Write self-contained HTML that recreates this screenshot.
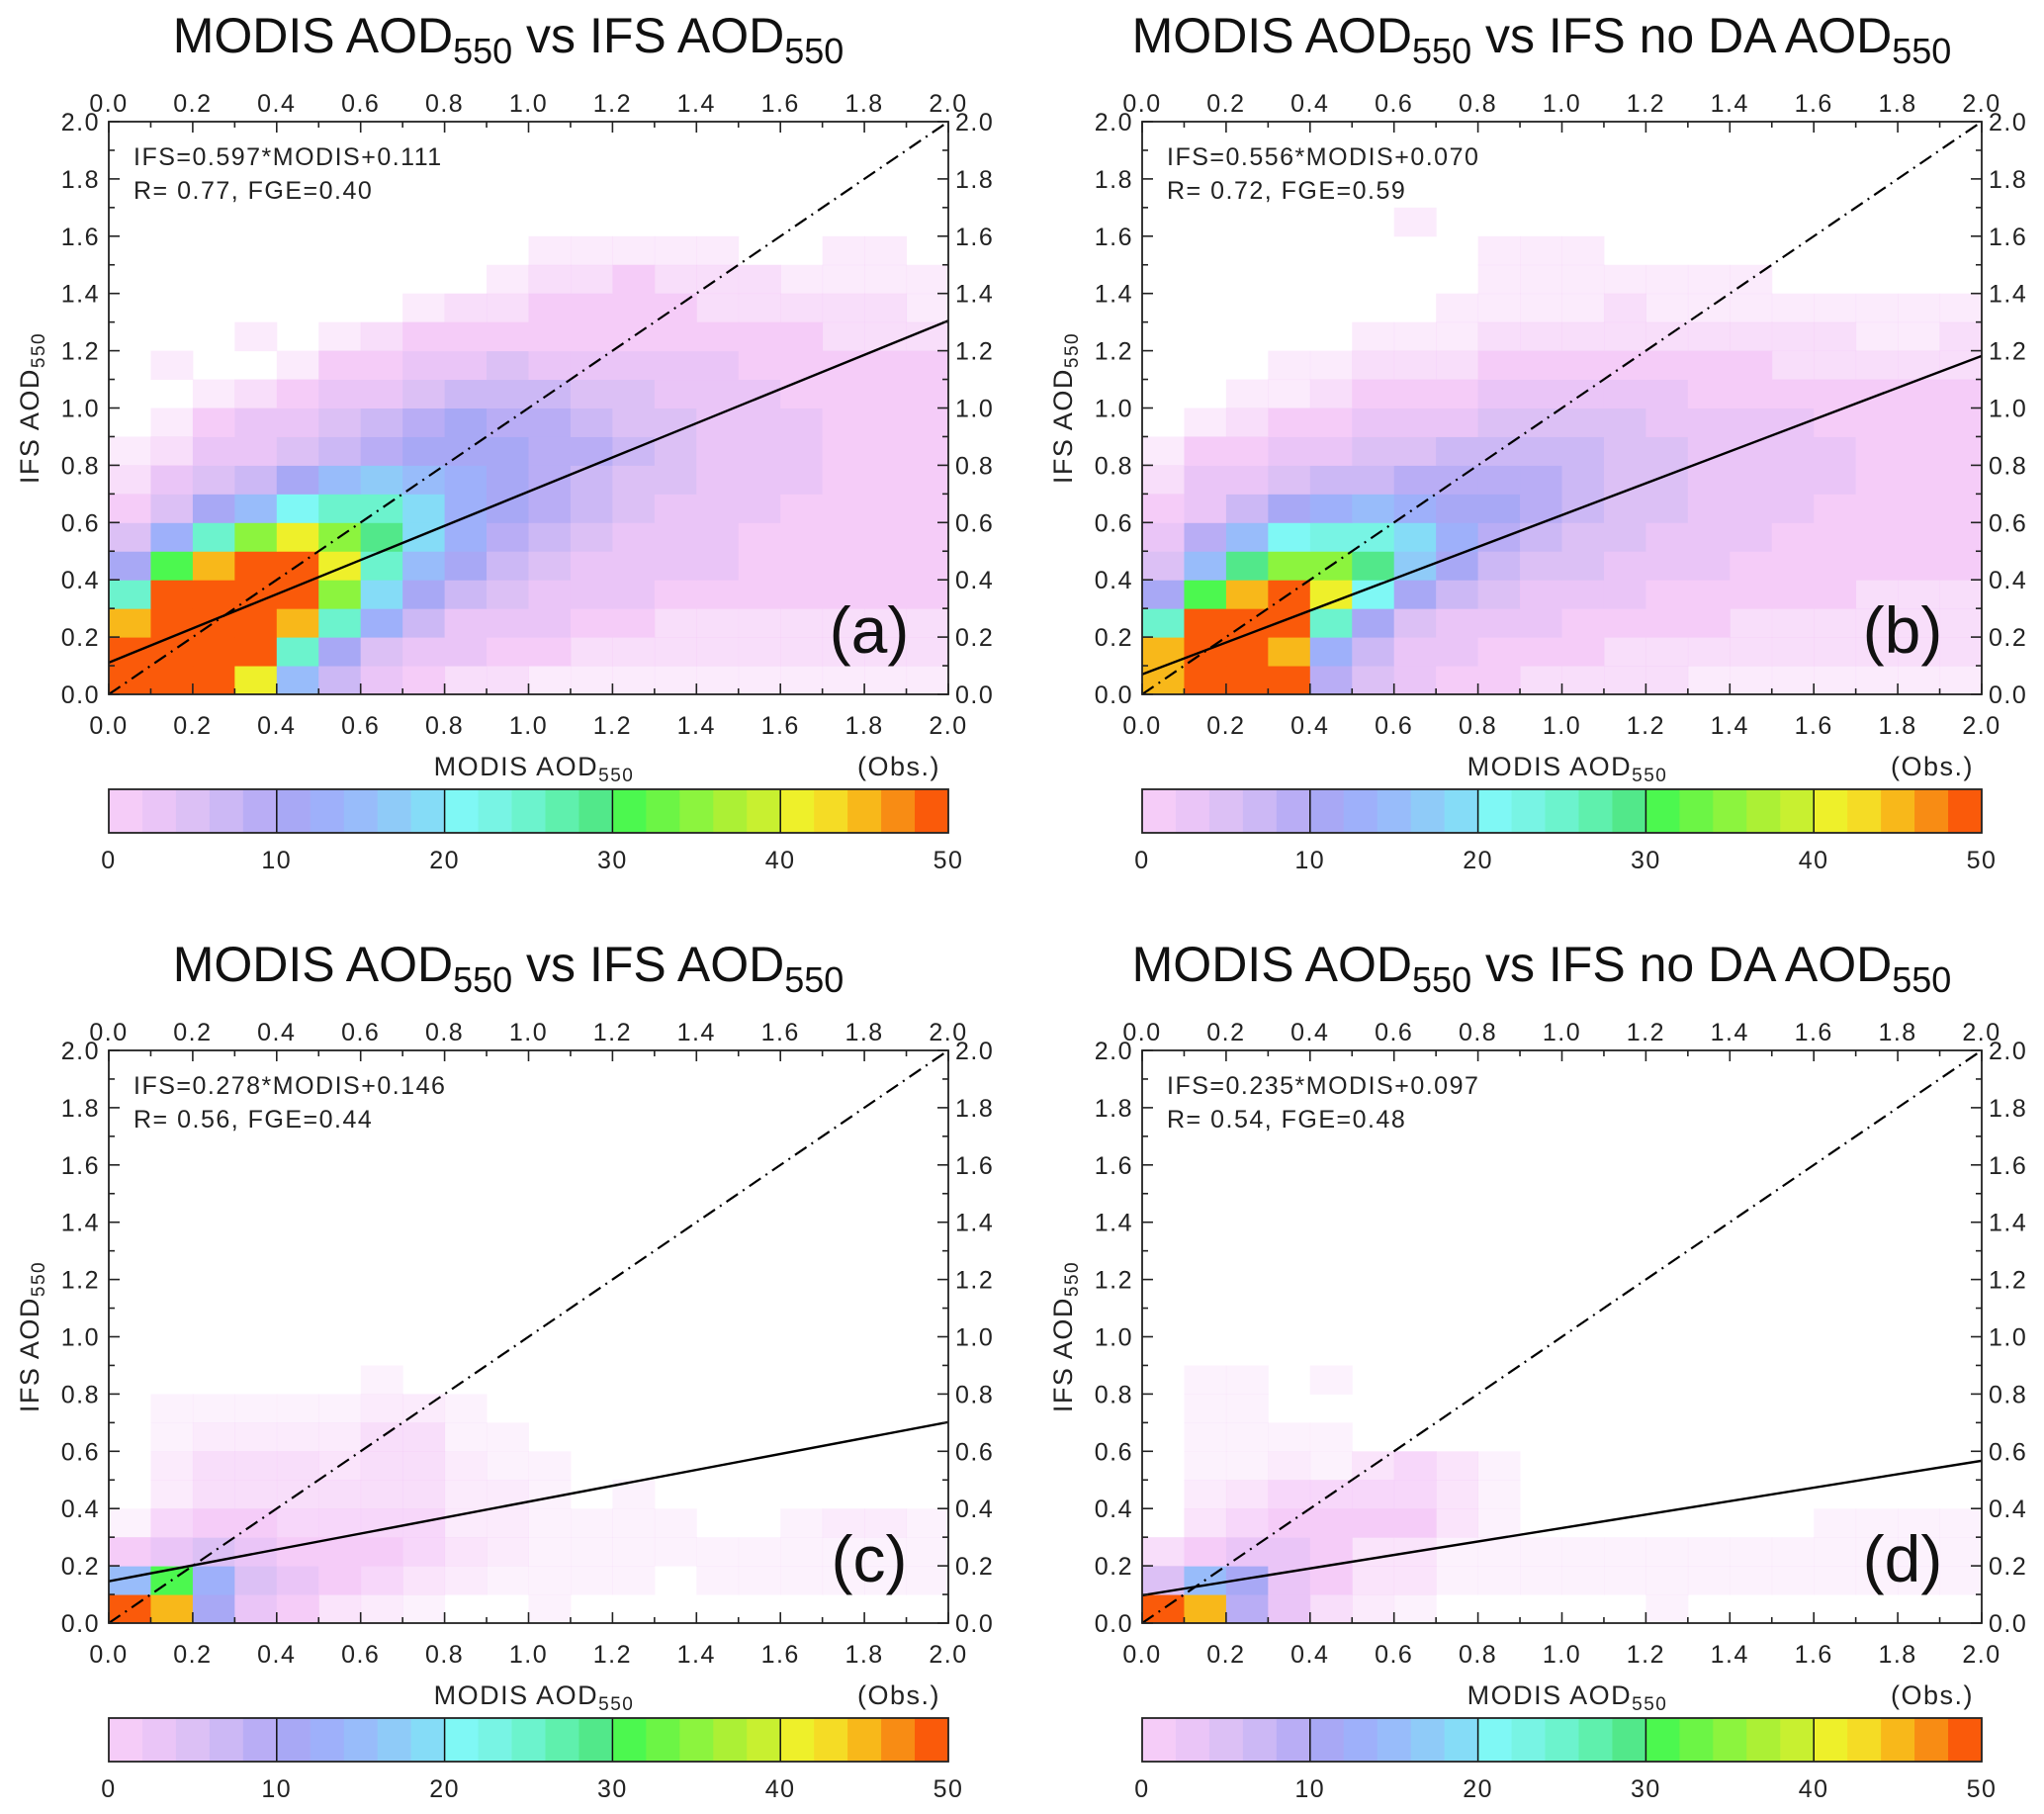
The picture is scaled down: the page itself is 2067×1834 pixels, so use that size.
<!DOCTYPE html>
<html><head><meta charset="utf-8"><style>
html,body{margin:0;padding:0;background:#fff}
svg{display:block}
text{font-family:"Liberation Sans",sans-serif;fill:#111}
.tk{fill:#222;letter-spacing:1.5px}
</style></head><body>
<svg id="fig" width="2067" height="1834" viewBox="0 0 2067 1834"></svg>
<script>
// ---- data ----
const xTicks = ["0.0","0.2","0.4","0.6","0.8","1.0","1.2","1.4","1.6","1.8","2.0"];
const cbTicks = ["0","10","20","30","40","50"];
const cbColors = ["#f5ccf8","#eac5f7","#dcc0f5","#ccb8f5","#b9adf5","#a8a8f5","#9eb0fa","#98bcfa","#8fcbf8","#85dcf7",
 "#7ff8f5","#78f4e4","#6cf3cd","#5ff0ad","#52e88a","#4cf84f","#6cf545","#8cf43e","#acf035","#c8f030",
 "#eef02a","#f5dc25","#f8b81a","#f88c14","#fa5a0a"];
const titles = ["MODIS AOD|550| vs IFS AOD|550|","MODIS AOD|550| vs IFS no DA AOD|550|","MODIS AOD|550| vs IFS AOD|550|","MODIS AOD|550| vs IFS no DA AOD|550|"];
const letters = ["(a)","(b)","(c)","(d)"];
const slopes = [0.597,0.556,0.278,0.235];
const intercepts = [0.111,0.070,0.146,0.097];
const rVals = ["0.77","0.72","0.56","0.54"];
const fgeVals = ["0.40","0.59","0.44","0.48"];
// histogram counts, rows from y=0.0-0.1 upward, 20 columns of 0.1 in x
const histA = [
[50,50,50,40,15,6,3,1,0.5,0.5,0.3,0.3,0.3,0.3,0.3,0.3,0.3,0.3,0.3,0.3],
[50,50,50,50,25,10,5,3,2,1,1,0.5,0.5,0.5,0.5,0.5,0.5,0.5,0.5,0.5],
[45,50,50,50,45,25,12,6,3,2,2,1,1,0.5,0.5,0.5,0.5,0.5,0.5,0.5],
[25,50,50,50,50,35,18,10,6,4,3,2,2,1,1,1,1,1,1,1],
[10,30,45,50,50,40,25,15,10,7,5,3,2,2,2,1,1,1,1,1],
[4,12,25,35,40,35,28,18,12,9,7,4,3,2,2,1,1,1,1,1],
[1,5,10,14,20,25,25,18,12,10,8,6,4,3,2,2,1,1,1,1],
[0.5,2,5,7,10,14,16,15,12,10,9,7,5,4,3,2,2,1,1,1],
[0.3,0.5,2,3,5,7,9,10,11,10,9,8,6,4,3,2,2,1,1,1],
[0,0.3,1,2,3,5,6,8,10,9,8,7,5,4,3,2,2,1,1,1],
[0,0,0.3,0.5,1,2,3,5,7,7,6,5,4,3,2,2,1,1,1,1],
[0,0.3,0,0,0.3,1,1,2,3,4,3,3,3,2,2,1,1,1,1,1],
[0,0,0,0.3,0,0.3,0.5,1,1,1,1,1,1,1,1,1,1,0.5,0.5,0.5],
[0,0,0,0,0,0,0,0.3,0.5,0.5,1,1,1,1,0.5,0.5,0.5,0.5,0.5,0.3],
[0,0,0,0,0,0,0,0,0,0.3,0.5,0.5,1,0.5,0.5,0.5,0.3,0.3,0.3,0.3],
[0,0,0,0,0,0,0,0,0,0,0.3,0.3,0.3,0.3,0.3,0,0,0.3,0.3,0]
];
const histB = [
[45,50,50,50,8,4,2,1,1,0.5,0.5,0.5,0.5,0.3,0.3,0.3,0.3,0.3,0.3,0.3],
[45,50,50,45,12,6,3,2,1,1,1,0.5,0.5,0.5,0.5,0.5,0.5,0.5,0.5,0.5],
[25,50,50,50,25,10,5,3,2,2,1,1,1,1,0.5,0.5,0.5,0.5,0.5,0.5],
[10,30,45,48,40,20,10,6,4,3,2,2,1,1,1,1,1,0.5,0.5,0.5],
[5,15,28,35,35,28,16,10,7,5,4,3,2,2,1,1,1,1,1,1],
[2,8,14,20,22,22,18,12,9,7,5,4,3,2,2,1,1,1,1,1],
[1,3,7,10,12,14,13,11,10,8,6,5,4,3,2,2,1,1,1,1],
[0.5,2,3,5,6,7,8,9,9,8,7,5,4,3,2,2,2,1,1,1],
[0.3,1,1,2,3,4,5,6,6,6,6,5,4,3,2,2,2,1,1,1],
[0,0.3,0.5,1,1,2,3,3,4,4,4,4,3,2,2,2,1,1,1,1],
[0,0,0.3,0.3,0.5,1,1,1,2,2,2,2,2,1,1,1,1,1,1,1],
[0,0,0,0.3,0.3,0.5,0.5,0.5,1,1,1,1,1,1,1,0.5,0.5,0.5,0.5,0.5],
[0,0,0,0,0,0.3,0.3,0.3,0.5,0.5,0.5,0.5,0.5,0.5,0.5,0.5,0.5,0.3,0.3,0.5],
[0,0,0,0,0,0,0,0.3,0.3,0.3,0.3,0.5,0.3,0.3,0.3,0.3,0.3,0.3,0.3,0.3],
[0,0,0,0,0,0,0,0,0.3,0.3,0.3,0.3,0.3,0.3,0.3,0,0,0,0,0],
[0,0,0,0,0,0,0,0,0.3,0.3,0.3,0,0,0,0,0,0,0,0,0],
[0,0,0,0,0,0,0.3,0,0,0,0,0,0,0,0,0,0,0,0,0]
];
const histC = [
[50,45,10,3,1,0.4,0.3,0.2,0,0,0.2,0,0,0,0,0,0,0,0,0],
[14,30,12,5,2,0.8,0.6,0.4,0.3,0.2,0.2,0.2,0.2,0,0.2,0.2,0.2,0.2,0.2,0.2],
[1,3,4,3,1.5,0.8,0.8,0.6,0.4,0.3,0.2,0.2,0.2,0.2,0.2,0.2,0.2,0.2,0.2,0.2],
[0.2,0.6,0.8,0.8,0.6,0.6,0.6,0.6,0.3,0.3,0.2,0.2,0.2,0.2,0,0,0.2,0.3,0.3,0.2],
[0,0.3,0.5,0.5,0.5,0.5,0.5,0.5,0.3,0.3,0.2,0,0.2,0,0,0,0,0,0,0],
[0,0.3,0.5,0.5,0.5,0.4,0.5,0.5,0.3,0.2,0.2,0,0,0,0,0,0,0,0,0],
[0,0.2,0.3,0.3,0.3,0.3,0.5,0.5,0.2,0.2,0,0,0,0,0,0,0,0,0,0],
[0,0.2,0.2,0.2,0.2,0.2,0.3,0.3,0.2,0,0,0,0,0,0,0,0,0,0,0],
[0,0,0,0,0,0,0.2,0,0,0,0,0,0,0,0,0,0,0,0,0]
];
const histD = [
[50,45,8,2,0.5,0.3,0.2,0,0,0,0,0,0.2,0,0,0,0,0,0,0],
[5,14,10,3,1,0.4,0.4,0.2,0.2,0.2,0.2,0.2,0.2,0.2,0.2,0.2,0.2,0.2,0.2,0.2],
[0.5,1,2,2,0.8,0.4,0.4,0.2,0.2,0.2,0.2,0.2,0.2,0.2,0.2,0.2,0.2,0.2,0.2,0.2],
[0,0.4,0.6,0.8,0.8,0.8,0.8,0.4,0.2,0,0,0,0,0,0,0,0.2,0.2,0.2,0.2],
[0,0.3,0.4,0.6,0.6,0.6,0.6,0.4,0.2,0,0,0,0,0,0,0,0,0,0,0],
[0,0.2,0.2,0.3,0.2,0.4,0.6,0.4,0.2,0,0,0,0,0,0,0,0,0,0,0],
[0,0.2,0.2,0.2,0.2,0,0,0,0,0,0,0,0,0,0,0,0,0,0,0],
[0,0.2,0.2,0,0,0,0,0,0,0,0,0,0,0,0,0,0,0,0,0],
[0,0.2,0.2,0,0.2,0,0,0,0,0,0,0,0,0,0,0,0,0,0,0]
];
const hists = [histA,histB,histC,histD];

// ---- drawing ----
const NS = "http://www.w3.org/2000/svg";
const svg = document.getElementById("fig");
const origins = [[110,123],[1155,123],[110,1062],[1155,1062]];
const W = 849, H = 579;
function mk(tag, attrs, parent){ const e=document.createElementNS(NS,tag); for(const k in attrs) e.setAttribute(k,attrs[k]); (parent||svg).appendChild(e); return e; }
function subText(parent, str, x, y, size, anchor, subSize, cls){
  const t = mk("text",{x:x,y:y,"font-size":size,"text-anchor":anchor},parent);
  if(cls) t.setAttribute("class",cls);
  str.split("|").forEach((p,i)=>{
    if(!p) return;
    const ts = mk("tspan",{},t);
    if(i%2===1){ ts.setAttribute("font-size",subSize); ts.setAttribute("dy",size*0.22); }
    else if(i>0){ ts.setAttribute("dy",-size*0.22); }
    ts.textContent = p;
  });
  return t;
}
origins.forEach((o,pi)=>{
  const g = mk("g",{transform:`translate(${o[0]},${o[1]})`});
  
  
  const sx = v => v/2*W, sy = v => H - v/2*H;
  const hg = mk("g",{},g);
  
  
  hists[pi].forEach((row,ri)=>{
    row.forEach((v,ci)=>{
      if(v<=0) return;
      const idx = Math.min(24, Math.floor(v/2));
      const x0=sx(ci*0.1), x1=sx((ci+1)*0.1), y0=sy((ri+1)*0.1), y1=sy(ri*0.1);
      const r = mk("rect",{x:x0,y:y0,width:x1-x0+0.5,height:y1-y0+0.5,fill:cbColors[idx],opacity:v<1?v*1.3:1},hg);
      
      
    });
  });
  const clip = mk("clipPath",{id:"cp"+pi},g); mk("rect",{x:0,y:0,width:W,height:H},clip);
  const one = mk("line",{x1:sx(0),y1:sy(0),x2:sx(2),y2:sy(2),stroke:"#000","stroke-width":2.2,"stroke-dasharray":"14,6,2,6","clip-path":`url(#cp${pi})`},g);
  
  
  const fit = mk("line",{x1:sx(0),y1:sy(intercepts[pi]),x2:sx(2),y2:sy(slopes[pi]*2+intercepts[pi]),stroke:"#000","stroke-width":2.4,"clip-path":`url(#cp${pi})`},g);
  
  
  const fr = mk("rect",{x:0,y:0,width:W,height:H,fill:"none",stroke:"#222","stroke-width":1.8},g);
  
  
  for(let i=0;i<=20;i++){
    const v=i*0.1, L = i%2===0?11:6;
    const x=sx(v), y=sy(v);
    mk("line",{x1:x,y1:H,x2:x,y2:H-L,stroke:"#222","stroke-width":1.6},g);
    mk("line",{x1:x,y1:0,x2:x,y2:L,stroke:"#222","stroke-width":1.6},g);
    mk("line",{x1:0,y1:y,x2:L,y2:y,stroke:"#222","stroke-width":1.6},g);
    mk("line",{x1:W,y1:y,x2:W-L,y2:y,stroke:"#222","stroke-width":1.6},g);
  }
  xTicks.forEach((lab,i)=>{
    const v=i*0.2;
    const b = mk("text",{x:sx(v),y:H+40,"font-size":25,"text-anchor":"middle","class":"tk"},g); b.textContent=lab;
     
    const t = mk("text",{x:sx(v),y:-10,"font-size":25,"text-anchor":"middle","class":"tk"},g); t.textContent=lab;
     
    const l = mk("text",{x:-9,y:sy(v)+9,"font-size":25,"text-anchor":"end","class":"tk"},g); l.textContent=lab;
     
    const r = mk("text",{x:W+7,y:sy(v)+9,"font-size":25,"text-anchor":"start","class":"tk"},g); r.textContent=lab;
     
  });
  const tt = subText(g, titles[pi], 404, -70, 50, "middle", 36);
   
  const xt = subText(g, "MODIS  AOD|550|", 430, 661, 27, "middle", 19, "tk");
   
  const ob = mk("text",{x:841,y:661,"font-size":27,"text-anchor":"end","class":"tk"},g); ob.textContent="(Obs.)";
   
  const yg = mk("g",{transform:`translate(-71,${H/2}) rotate(-90)`},g);
  const yt = subText(yg, "IFS  AOD|550|", 0, 0, 27, "middle", 19, "tk");
   
  const a1 = mk("text",{x:25,y:44,"font-size":25,"class":"tk"},g); a1.textContent=`IFS=${slopes[pi].toFixed(3)}*MODIS+${intercepts[pi].toFixed(3)}`;
   
  const a2 = mk("text",{x:25,y:78,"font-size":25,"class":"tk"},g); a2.textContent=`R= ${rVals[pi]}, FGE=${fgeVals[pi]}`;
   
  const lt = mk("text",{x:769,y:537,"font-size":66,"text-anchor":"middle"},g); lt.textContent=letters[pi];
   
  const cb = mk("g",{transform:"translate(0,675)"},g);
   
  const cw = W/cbColors.length;
  cbColors.forEach((c,i)=>{ mk("rect",{x:i*cw,y:0,width:cw+0.6,height:44,fill:c},cb); });
  for(let k=1;k<5;k++) mk("line",{x1:k*W/5,y1:0,x2:k*W/5,y2:44,stroke:"#111","stroke-width":1.5},cb);
  mk("rect",{x:0,y:0,width:W,height:44,fill:"none",stroke:"#222","stroke-width":1.8},cb);
  cbTicks.forEach((lab,i)=>{
    const t = mk("text",{x:i*W/5,y:80,"font-size":25,"text-anchor":"middle","class":"tk"},cb); t.textContent=lab;
     
  });
});
</script>
</body></html>
